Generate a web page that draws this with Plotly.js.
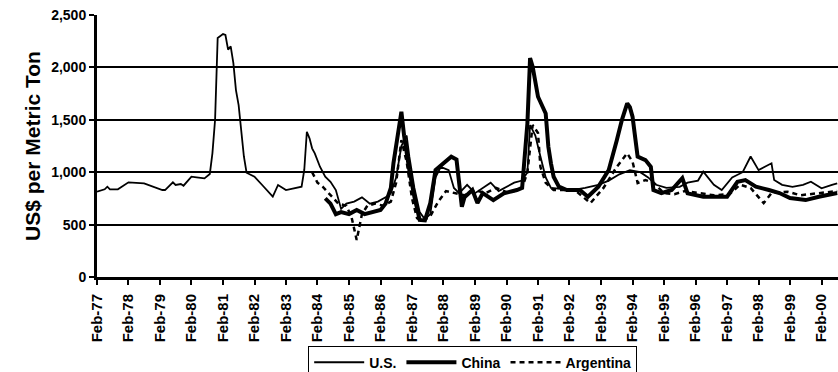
<!DOCTYPE html>
<html>
<head>
<meta charset="utf-8">
<script src="https://cdn.plot.ly/plotly-3.0.1.min.js"></script>
<style>
html,body{margin:0;padding:0;background:#fff;overflow:hidden;width:838px;height:372px;}
#wrap{width:838px;height:372px;overflow:hidden;position:relative;}
#chart{width:838px;height:395px;}
</style>
</head>
<body>
<div id="wrap"><div id="chart"></div></div>
<script>
const usDates = ['1977-02-01','1977-05-01','1977-06-01','1977-07-01','1977-10-01','1978-02-01','1978-08-01','1979-03-01','1979-04-01','1979-07-01','1979-08-01','1979-10-01','1979-11-01','1980-02-01','1980-04-01','1980-07-01','1980-09-01','1980-10-01','1980-11-01','1980-12-01','1981-02-01','1981-03-01','1981-04-01','1981-05-01','1981-06-01','1981-07-01','1981-08-01','1981-09-01','1981-10-01','1981-11-01','1982-02-01','1982-05-01','1982-09-01','1982-11-01','1983-02-01','1983-08-01','1983-09-01','1983-10-01','1983-11-01','1983-12-01','1984-01-01','1984-03-01','1984-05-01','1984-07-01','1984-09-01','1984-11-01','1985-01-01','1985-04-01','1985-07-01','1985-10-01','1986-01-01','1986-04-01','1986-06-01','1986-08-01','1986-10-01','1986-12-01','1987-01-01','1987-03-01','1987-05-01','1987-07-01','1987-09-01','1987-11-01','1988-01-01','1988-04-01','1988-06-01','1988-08-01','1988-11-01','1989-02-01','1989-05-01','1989-08-01','1989-11-01','1990-02-01','1990-05-01','1990-08-01','1990-10-01','1990-11-01','1991-01-01','1991-03-01','1991-05-01','1991-07-01','1991-10-01','1992-03-01','1992-08-01','1993-01-01','1993-05-01','1993-09-01','1994-01-01','1994-05-01','1994-08-01','1994-11-01','1995-03-01','1995-08-01','1995-11-01','1996-03-01','1996-05-01','1996-09-01','1996-12-01','1997-04-01','1997-08-01','1997-11-01','1998-02-01','1998-07-01','1998-08-01','1998-11-01','1999-03-01','1999-07-01','1999-10-01','2000-02-01','2000-06-01','2000-08-01'];
const usValues = [814,837,862,837,837,903,894,830,830,903,878,887,871,957,951,941,983,1180,1500,2280,2318,2309,2170,2200,2040,1784,1640,1420,1150,995,957,878,766,878,830,862,1021,1386,1323,1228,1180,1052,957,909,830,650,700,720,760,700,720,760,800,950,1250,1350,1150,850,620,550,600,950,1050,1020,850,800,880,800,850,900,820,860,900,920,1000,1450,1350,1150,950,850,840,830,850,880,920,980,1020,1000,950,880,850,860,900,920,1005,880,830,950,1000,1150,1020,1085,925,880,860,880,909,846,880,894];

const chinaDates = ['1984-05-01','1984-07-01','1984-09-01','1984-11-01','1985-02-01','1985-05-01','1985-08-01','1985-11-01','1986-02-01','1986-04-01','1986-06-01','1986-07-01','1986-10-01','1986-11-01','1987-01-01','1987-03-01','1987-05-01','1987-07-01','1987-09-01','1987-11-01','1988-02-01','1988-05-01','1988-07-01','1988-08-01','1988-09-01','1988-10-01','1989-01-01','1989-03-01','1989-05-01','1989-09-01','1990-01-01','1990-06-01','1990-08-01','1990-10-01','1990-11-01','1990-12-01','1991-02-01','1991-05-01','1991-06-01','1991-07-01','1991-08-01','1991-10-01','1992-01-01','1992-06-01','1992-09-01','1993-01-01','1993-05-01','1993-08-01','1993-10-01','1993-12-01','1994-01-01','1994-02-01','1994-03-01','1994-04-01','1994-07-01','1994-09-01','1994-10-01','1995-01-01','1995-05-01','1995-09-01','1995-11-01','1996-05-01','1997-02-01','1997-06-01','1997-09-01','1998-01-01','1998-06-01','1998-10-01','1999-02-01','1999-08-01','2000-01-01','2000-08-01'];
const chinaValues = [750,700,600,620,600,640,600,620,640,700,850,1085,1577,1350,1021,766,544,540,705,1021,1085,1148,1120,862,670,760,830,705,800,734,798,830,850,1466,2090,2006,1720,1561,1243,1085,957,862,830,830,766,862,1021,1300,1500,1657,1620,1530,1374,1148,1116,1052,830,801,830,944,798,766,766,909,925,862,830,801,753,734,766,801];

const argDates = ['1983-12-01','1984-02-01','1984-04-01','1984-07-01','1984-10-01','1985-01-01','1985-03-01','1985-05-01','1985-07-01','1985-09-01','1985-12-01','1986-03-01','1986-06-01','1986-08-01','1986-10-01','1986-12-01','1987-02-01','1987-04-01','1987-06-01','1987-09-01','1987-12-01','1988-03-01','1988-07-01','1988-10-01','1989-02-01','1989-06-01','1989-10-01','1990-03-01','1990-08-01','1990-10-01','1990-12-01','1991-02-01','1991-03-01','1991-05-01','1991-08-01','1992-04-01','1992-10-01','1993-03-01','1993-08-01','1993-12-01','1994-02-01','1994-04-01','1994-07-01','1994-10-01','1995-02-01','1995-06-01','1995-10-01','1996-03-01','1996-09-01','1997-03-01','1997-07-01','1997-11-01','1998-02-01','1998-04-01','1998-07-01','1999-01-01','1999-06-01','2000-01-01','2000-08-01'];
const argValues = [1000,900,862,780,700,680,575,353,600,680,700,680,720,900,1307,1100,750,560,530,580,718,820,800,780,830,800,850,800,850,1000,1450,1374,1050,900,830,830,705,850,1050,1180,1100,897,925,900,800,790,820,800,780,790,880,850,766,705,800,814,780,800,820];

const tickDates = ['1977-02-01','1978-02-01','1979-02-01','1980-02-01','1981-02-01','1982-02-01','1983-02-01','1984-02-01','1985-02-01','1986-02-01','1987-02-01','1988-02-01','1989-02-01','1990-02-01','1991-02-01','1992-02-01','1993-02-01','1994-02-01','1995-02-01','1996-02-01','1997-02-01','1998-02-01','1999-02-01','2000-02-01'];
const tickLabels = ['Feb-77','Feb-78','Feb-79','Feb-80','Feb-81','Feb-82','Feb-83','Feb-84','Feb-85','Feb-86','Feb-87','Feb-88','Feb-89','Feb-90','Feb-91','Feb-92','Feb-93','Feb-94','Feb-95','Feb-96','Feb-97','Feb-98','Feb-99','Feb-00'];
const yTicks = [0,500,1000,1500,2000,2500];

const FONT = 'Liberation Sans, Arial, sans-serif';

const traces = [
  {x: usDates, y: usValues, name: 'U.S.', type: 'scatter', mode: 'lines',
   line: {color: '#000', width: 1.8}},
  {x: chinaDates, y: chinaValues, name: 'China', type: 'scatter', mode: 'lines',
   line: {color: '#000', width: 4}},
  {x: argDates, y: argValues, name: 'Argentina', type: 'scatter', mode: 'lines',
   line: {color: '#000', width: 2.5, dash: '5px,4px'}}
];

const layout = {
  width: 838, height: 395,
  margin: {l: 97, r: 0, t: 15, b: 118},
  paper_bgcolor: '#fff', plot_bgcolor: '#fff',
  font: {family: FONT, color: '#000'},
  showlegend: true,
  legend: {
    orientation: 'h', x: 0.285, xanchor: 'left', y: -0.262, yanchor: 'top',
    bordercolor: '#000', borderwidth: 1, bgcolor: '#fff',
    font: {family: FONT, size: 14, color: '#000', weight: 'bold'},
    itemwidth: 50, tracegroupgap: 0
  },
  xaxis: {
    type: 'date', range: ['1977-02-01', '2000-08-10'],
    tickmode: 'array', tickvals: tickDates, ticktext: tickLabels,
    tickangle: -90, ticks: 'outside', ticklen: 5, tickwidth: 2, tickcolor: '#000',
    showline: true, linecolor: '#000', linewidth: 3,
    showgrid: false, zeroline: false, ticklabelstandoff: 3,
    tickfont: {family: FONT, size: 15, color: '#000', weight: 'bold'}
  },
  yaxis: {
    range: [0, 2500], tickmode: 'array', tickvals: yTicks, tickformat: ',',
    ticks: 'outside', ticklen: 5, tickwidth: 2, tickcolor: '#000',
    showline: true, linecolor: '#000', linewidth: 3,
    showgrid: true, gridcolor: '#000', gridwidth: 2, zeroline: false,
    tickfont: {family: FONT, size: 14, color: '#000', weight: 'bold'},
    title: {text: 'US$ per Metric Ton', standoff: 5,
            font: {family: FONT, size: 21, color: '#000', weight: 'bold'}}
  }
};

Plotly.newPlot('chart', traces, layout, {staticPlot: true, displayModeBar: false});
</script>
</body>
</html>
